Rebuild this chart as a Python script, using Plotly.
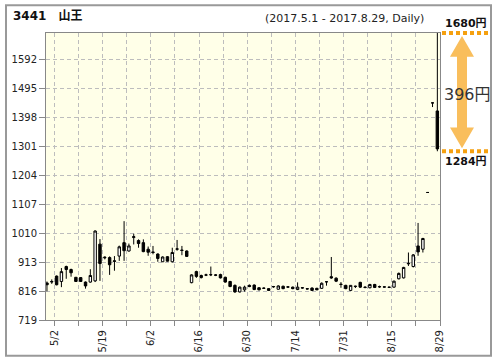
import plotly.graph_objects as go

# ---------------- data ----------------
dates = ["5/1", "5/2", "5/8", "5/9", "5/10", "5/11", "5/12", "5/15", "5/16", "5/17",
         "5/18", "5/19", "5/22", "5/23", "5/24", "5/25", "5/26", "5/29", "5/30", "5/31",
         "6/1", "6/2", "6/5", "6/6", "6/7", "6/8", "6/9", "6/12", "6/13", "6/14",
         "6/15", "6/16", "6/19", "6/20", "6/21", "6/22", "6/23", "6/26", "6/27", "6/28",
         "6/29", "6/30", "7/3", "7/4", "7/5", "7/6", "7/7", "7/10", "7/11", "7/12",
         "7/13", "7/14", "7/18", "7/19", "7/20", "7/21", "7/24", "7/25", "7/26", "7/27",
         "7/28", "7/31", "8/1", "8/2", "8/3", "8/4", "8/7", "8/8", "8/9", "8/10",
         "8/14", "8/15", "8/16", "8/17", "8/18", "8/21", "8/22", "8/23", "8/24", "8/25",
         "8/28", "8/29"]

opens = [843, 846, 866, 848, 898, 888, 862, 861, 846, 846,
         850, 973, 927, 928, 915, 933, 978, 950, 995, 985,
         978, 956, 947, 940, 914, 931, 914, 956, 953, 950,
         844, 881, 868, 869, 870, 870, 871, 862, 848, 835,
         813, 820, 835, 836, 827, 826, 824, 830, 822, 832,
         829, 829, 821, 826, 824, 826, 825, 825, 847, 864,
         859, 839, 835, 818, 831, 845, 829, 827, 838, 831,
         829, 828, 829, 857, 860, 907, 898, 967, 956, 1146,
         1446, 1419]
highs = [848, 855, 868, 893, 901, 891, 863, 862, 848, 889,
         1019, 990, 932, 932, 933, 968, 1050, 975, 1008, 989,
         989, 965, 967, 942, 932, 933, 961, 987, 967, 952,
         872, 884, 871, 874, 898, 873, 874, 864, 850, 838,
         831, 834, 838, 838, 829, 828, 826, 833, 835, 834,
         832, 831, 845, 829, 826, 828, 827, 845, 848, 930,
         862, 846, 837, 836, 834, 847, 832, 840, 840, 834,
         831, 830, 851, 878, 897, 945, 940, 1044, 994, 1146,
         1446, 1680]
lows = [815, 840, 835, 829, 857, 864, 847, 847, 824, 844,
        846, 850, 922, 870, 884, 917, 917, 948, 972, 961,
        946, 934, 939, 914, 913, 915, 912, 951, 936, 930,
        842, 860, 858, 866, 866, 866, 858, 844, 829, 810,
        811, 814, 829, 819, 818, 823, 816, 827, 821, 822,
        826, 822, 819, 824, 821, 817, 819, 823, 834, 857,
        846, 827, 822, 817, 826, 826, 825, 825, 826, 827,
        827, 826, 827, 855, 858, 900, 895, 934, 945, 1146,
        1432, 1284]
closes = [837, 848, 837, 881, 888, 877, 848, 848, 833, 868,
          1017, 908, 929, 904, 917, 964, 951, 967, 998, 975,
          948, 946, 945, 925, 930, 916, 945, 957, 952, 932,
          870, 865, 861, 870, 871, 869, 860, 846, 831, 813,
          829, 829, 831, 821, 820, 825, 818, 831, 833, 824,
          830, 824, 829, 827, 823, 818, 820, 842, 847, 860,
          849, 838, 824, 835, 832, 829, 828, 838, 828, 830,
          830, 829, 849, 875, 895, 909, 937, 947, 992, 1146,
          1446, 1292]

y_ticks = [719, 816, 913, 1010, 1107, 1204, 1301, 1398, 1495, 1592]
y_min, y_max = 719, 1680
x_label_days = ["5/2", "5/19", "6/2", "6/16", "6/30", "7/14", "7/31", "8/15", "8/29"]

title_left = "3441\u3000山王"
title_right = "(2017.5.1 - 2017.8.29, Daily)"

# ---------------- figure ----------------
x = list(range(len(dates)))
tick_idx = list(range(1, len(dates), 5))
tick_vals = [i + 0.55 for i in tick_idx]
tick_text = [dates[i] if dates[i] in x_label_days else "" for i in tick_idx]

FONT = "DejaVu Sans, Noto Sans CJK JP, sans-serif"

fig = go.Figure(go.Candlestick(
    x=x, open=opens, high=highs, low=lows, close=closes,
    increasing=dict(line=dict(color="black", width=1), fillcolor="white"),
    decreasing=dict(line=dict(color="black", width=1), fillcolor="black"),
    whiskerwidth=0, hoverinfo="skip",
))

# pixel layout of the plot area
PL, PR, PT, PB = 46, 440, 33, 323
W, H = 496, 364
PW, PH = PR - PL, PB - PT


def fx(px):
    return (px - PL) / PW


def fy(py):
    return (PB - py) / PH


def py_of(v):
    return PB - (v - y_min) / (y_max - y_min) * PH


fig.update_layout(
    width=W, height=H,
    margin=dict(l=PL, r=W - PR, t=PT, b=H - PB),
    paper_bgcolor="white", plot_bgcolor="#FFFFE8",
    showlegend=False, boxgap=0.28,
    font=dict(family=FONT, size=10, color="#222"),
)
fig.update_xaxes(
    range=[-0.2, len(dates) - 1 + 0.55], tickmode="array",
    tickvals=tick_vals, ticktext=tick_text, tickangle=-90,
    ticks="outside", ticklen=5, tickcolor="#888",
    showgrid=True, gridcolor="#BDBDBD", griddash="4px,3px", gridwidth=1,
    showline=True, linecolor="#888", linewidth=1, mirror=True,
    zeroline=False, rangeslider_visible=False,
    tickfont=dict(family=FONT, size=10, color="#222"),
)
fig.update_yaxes(
    range=[y_min, y_max], tickmode="array", tickvals=y_ticks,
    ticks="outside", ticklen=6, tickcolor="#888",
    showgrid=True, gridcolor="#BDBDBD", griddash="4px,3px", gridwidth=1,
    showline=True, linecolor="#888", linewidth=1, mirror=True,
    zeroline=False, tickfont=dict(family=FONT, size=10, color="#222"),
)

shapes = []
# outer frame
shapes.append(dict(type="rect", xref="paper", yref="paper",
                   x0=fx(6), x1=fx(491), y0=fy(359), y1=fy(5),
                   line=dict(color="#999", width=2), layer="above"))

# high/low range indicator for the last candle
hi, lo = highs[-1], lows[-1]
yh, yl = py_of(hi), py_of(lo)
orange = "#F5A00F"
for yy in (yh, yl):
    shapes.append(dict(type="line", xref="paper", yref="paper",
                       x0=fx(442), x1=fx(491), y0=fy(yy), y1=fy(yy),
                       line=dict(color=orange, width=4, dash="4px,3px"),
                       layer="above"))
cx = 462
top, bot = yh + 3, yl - 3
hh, sw, hw = 21, 5, 12
pts = [(cx, top), (cx + hw, top + hh), (cx + sw, top + hh), (cx + sw, bot - hh),
       (cx + hw, bot - hh), (cx, bot), (cx - hw, bot - hh), (cx - sw, bot - hh),
       (cx - sw, top + hh), (cx - hw, top + hh)]
path = "M " + " L ".join(f"{fx(a):.5f},{fy(b):.5f}" for a, b in pts) + " Z"
shapes.append(dict(type="path", xref="paper", yref="paper", path=path,
                   fillcolor="#F9BE5C", line=dict(width=0), layer="above"))
fig.update_layout(shapes=shapes)

annotations = [
    dict(text=f"<b>{hi}円</b>", x=fx(466), y=fy(yh - 10), xref="paper", yref="paper",
         showarrow=False, font=dict(family=FONT, size=11, color="#111"),
         xanchor="center", yanchor="middle"),
    dict(text=f"<b>{lo}円</b>", x=fx(466), y=fy(yl + 10), xref="paper", yref="paper",
         showarrow=False, font=dict(family=FONT, size=11, color="#111"),
         xanchor="center", yanchor="middle"),
    dict(text=f"{hi - lo}円", x=fx(467), y=fy((yh + yl) / 2 + 2), xref="paper", yref="paper",
         showarrow=False, font=dict(family=FONT, size=16, color="#333"),
         xanchor="center", yanchor="middle"),
    dict(text=f"<b>{title_left}</b>", x=fx(11), y=fy(16), xref="paper", yref="paper",
         showarrow=False, font=dict(family=FONT, size=12, color="#111"),
         xanchor="left", yanchor="middle"),
    dict(text=title_right, x=fx(426), y=fy(18), xref="paper", yref="paper",
         showarrow=False, font=dict(family=FONT, size=11, color="#222"),
         xanchor="right", yanchor="middle"),
]
fig.update_layout(annotations=annotations)

fig.write_html("out.html",
               config={"displayModeBar": False, "staticPlot": True},
               post_script="document.body.style.margin='0px';"
                           "document.body.style.overflow='hidden';")
